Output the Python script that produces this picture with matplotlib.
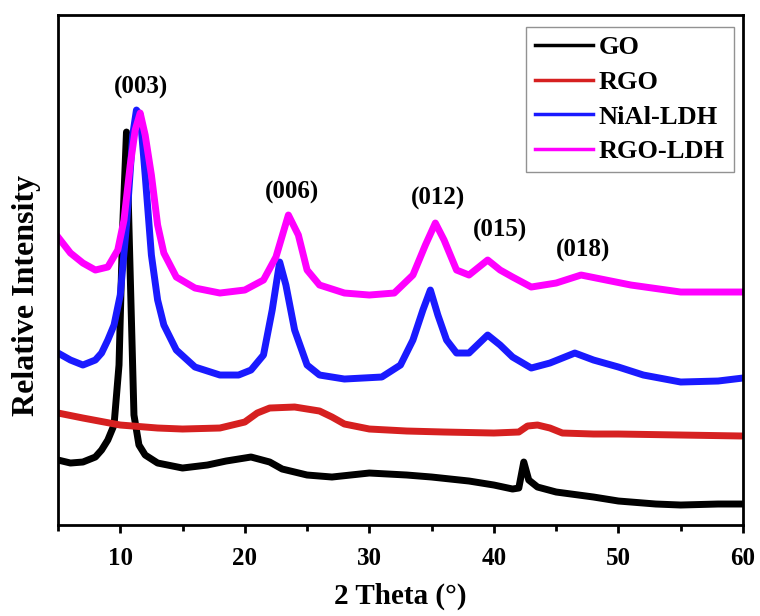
import matplotlib.pyplot as plt
from matplotlib.ticker import MultipleLocator

# values (height above the bottom axis, arbitrary units)
go_x = [5, 6, 7, 8, 8.5, 9, 9.5, 9.9, 10.2, 10.5, 10.8, 11.1, 11.5, 12, 13, 15, 17, 18.5, 20.5, 22, 23, 25,
        27, 28.5, 30, 33, 35, 38, 40, 41.5, 42.0, 42.4, 42.8, 43.5, 45, 48, 50, 53, 55, 58, 60]
go_y = [65, 62, 63, 68, 75, 85, 100, 160, 300, 393, 250, 110, 80, 70, 62, 57, 60, 64, 68, 63, 56, 50,
        48, 50, 52, 50, 48, 44, 40, 36, 37, 63, 45, 38, 33, 28, 24, 21, 20, 21, 21]

rgo_x = [5, 7, 10, 13, 15, 18, 20, 21, 22, 24, 26, 27, 28, 30, 33, 36, 40, 42, 42.7, 43.5, 44.5, 45.5, 48, 50, 55, 60]
rgo_y = [112, 107, 100, 97, 96, 97, 103, 112, 117, 118, 114, 108, 101, 96, 94, 93, 92, 93, 99, 100, 97, 92, 91, 91, 90, 89]

ldh_x = [5, 6, 7, 8, 8.5, 9, 9.5, 10, 10.5, 11, 11.3, 11.6, 12, 12.5, 13, 13.5, 14.5, 16, 18, 19.5, 20.5, 21.5,
         22.2, 22.8, 23.3, 24, 25, 26, 28, 31, 32.5, 33.5, 34.3, 34.9, 35.5, 36.2, 37, 38, 39.5, 40.5, 41.5,
         43, 44.5, 46.5, 48, 50, 52, 55, 58, 60]
ldh_y = [172, 165, 160, 165, 172, 185, 200, 230, 300, 390, 415, 410, 350, 270, 225, 200, 175, 158, 150, 150, 155, 170,
         215, 263, 240, 195, 160, 150, 146, 148, 160, 185, 215, 235, 210, 185, 172, 172, 190, 180, 168,
         157, 162, 172, 165, 158, 150, 143, 144, 147]

rgoldh_x = [5, 6, 7, 8, 9, 9.8, 10.3, 10.8, 11.2, 11.6, 12, 12.5, 13, 13.5, 14.5, 16, 18, 20, 21.5, 22.5,
            23.5, 24.3, 25, 26, 28, 30, 32, 33.5, 34.5, 35.3, 36, 37, 38, 39.5, 40.5, 41.5, 43, 45, 47,
            49, 51, 55, 58, 60]
rgoldh_y = [288, 272, 262, 255, 258, 275, 305, 360, 395, 412, 390, 350, 300, 272, 248, 237, 232, 235, 245, 268,
            310, 290, 255, 240, 232, 230, 232, 250, 280, 302, 285, 255, 250, 265, 255, 248, 238, 242, 250,
            245, 240, 233, 233, 233]

series = [("GO", go_x, go_y, "black"),
          ("RGO", rgo_x, rgo_y, "#d62020"),
          ("NiAl-LDH", ldh_x, ldh_y, "#1a1aff"),
          ("RGO-LDH", rgoldh_x, rgoldh_y, "#ff00ff")]

peak_labels = ["(003)", "(006)", "(012)", "(015)", "(018)"]
peak_pos = [11.7, 23.8, 35.5, 40.5, 47.2]
peak_h = [438, 333, 327, 295, 275]

plt.rcParams['font.family'] = ['Liberation Serif', 'DejaVu Serif']
plt.rcParams['font.weight'] = 'bold'

fig = plt.figure(figsize=(7.6, 6.16), dpi=100)
ax = fig.add_axes([0.0763, 0.1477, 0.9013, 0.8279])

for name, xs, ys, c in series:
    ax.plot(xs, ys, color=c, lw=5, label=name, solid_joinstyle='round')

for lab, px, py in zip(peak_labels, peak_pos, peak_h):
    ax.text(px, py, lab, ha='center', va='center', fontsize=18, fontweight='bold')

ax.set_xlim(5, 60)
ax.set_ylim(0, 510)
ax.xaxis.set_major_locator(MultipleLocator(10))
ax.xaxis.set_minor_locator(MultipleLocator(5))
ax.tick_params(axis='x', which='major', direction='out', length=6, width=2, labelsize=18, pad=10)
ax.tick_params(axis='x', which='minor', direction='out', length=4, width=2)
ax.set_yticks([])
for s in ax.spines.values():
    s.set_linewidth(2)

ax.set_xlabel("2 Theta (°)", fontsize=21, fontweight='bold', labelpad=9)
ax.set_ylabel("Relative Intensity", fontsize=23, fontweight='bold')
ax.yaxis.set_label_coords(-0.025, 0.45)

leg = ax.legend(loc='upper right', fontsize=19, frameon=True, fancybox=False,
                edgecolor='#777777', handlelength=2.2, handletextpad=0.2,
                borderpad=0.35, labelspacing=0.42, borderaxespad=0,
                bbox_to_anchor=(0.987, 0.977))
for h in leg.get_lines():
    h.set_linewidth(2.5)
for t in leg.get_texts():
    t.set_fontweight('bold')

fig.savefig("out.png", dpi=100)
